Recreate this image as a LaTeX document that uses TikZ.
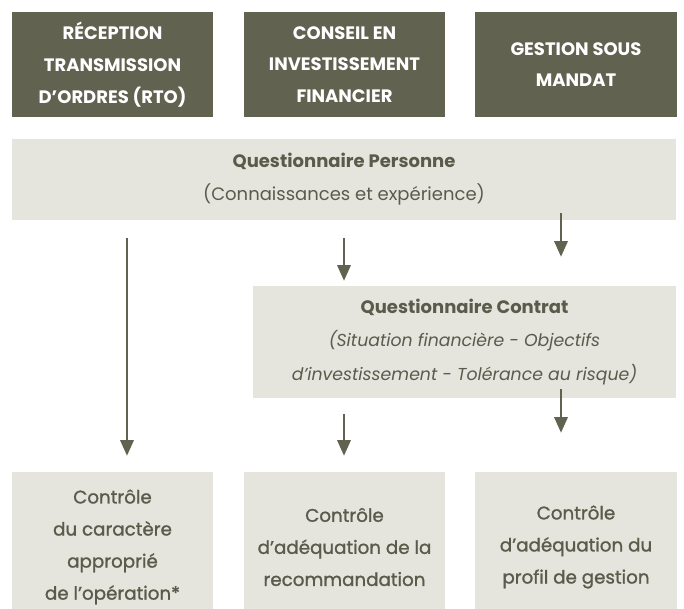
\documentclass[tikz,border=0pt]{standalone}
\usepackage{fontspec}
\setmainfont{Poppins}
\newfontfamily\medium{Poppins}[FakeBold=1.2]
\usepackage{tikz}
\usetikzlibrary{arrows.meta}

\definecolor{olive}{HTML}{626251}
\definecolor{pale}{HTML}{E5E4DD}
\definecolor{ink}{HTML}{5B5B4C}
\newcommand{\detail}[1]{{\fontsize{12.3}{23.5}\selectfont\itshape #1}}

\tikzset{
  offre/.style={fill=olive, text=white, inner sep=0pt, align=center,
    minimum width=5.025cm, minimum height=2.625cm,
    font=\fontsize{12.8}{22.5}\selectfont\bfseries},
  quest/.style={fill=pale, text=ink, inner sep=0pt, align=center,
    font=\fontsize{12.8}{23.5}\selectfont},
  ctrl/.style={fill=pale, text=ink, inner sep=0pt, align=center,
    minimum width=5.025cm, minimum height=3.75cm,
    font=\fontsize{13}{22.8}\selectfont\medium},
  fleche/.style={draw=olive, line width=1.4pt,
    -{Triangle[width=9.5pt,length=11pt]}}
}

\begin{document}
\begin{tikzpicture}[x=0.025cm,y=-0.025cm]
    \clip (0,0) rectangle (684,609);
    % offres
    \node[offre] (rto) at (112.5,64.5) {RÉCEPTION\\TRANSMISSION\\D’ORDRES (RTO)};
    \node[offre] (cif) at (344.5,64.5) {CONSEIL EN\\INVESTISSEMENT\\FINANCIER};
    \node[offre] (gsm) at (576,64.5) {GESTION SOUS\\MANDAT};
    % questionnaires
    \node[quest, minimum width=16.6cm, minimum height=2.025cm] (qp) at (344,179.5)
        {\textbf{Questionnaire Personne}\\(Connaissances et expérience)};
    \node[quest, minimum width=10.575cm, minimum height=2.8cm] (qc) at (464.5,342)
        {\textbf{Questionnaire Contrat}\\\detail{(Situation financière - Objectifs}\\\detail{d’investissement - Tolérance au risque)}};
    % controles
    \node[ctrl] (c1) at (112.5,547) {Contrôle\\du caractère\\approprié\\de l’opération*};
    \node[ctrl] (c2) at (344.5,547) {Contrôle\\d’adéquation de la\\recommandation};
    \node[ctrl] (c3) at (576,547) {Contrôle\\d’adéquation du\\profil de gestion};
    \coordinate (xa) at (127,0);
    \coordinate (xb) at (344,0);
    \coordinate (xc) at (561,0);
    \draw [fleche, shorten <=0.45cm, shorten >=0.4cm] (qp.south -| xa) -- (c1.north -| xa);
    \draw [fleche, shorten <=0.45cm, shorten >=0.125cm] (qp.south -| xb) -- (qc.north -| xb);
    \draw [fleche, shorten <=-0.175cm, shorten >=0.725cm] (qp.south -| xc) -- (qc.north -| xc);
    \draw [fleche, shorten <=0.4cm, shorten >=0.4cm] (qc.south -| xb) -- (c2.north -| xb);
    \draw [fleche, shorten <=-0.225cm, shorten >=0.975cm] (qc.south -| xc) -- (c3.north -| xc);
\end{tikzpicture}
\end{document}
